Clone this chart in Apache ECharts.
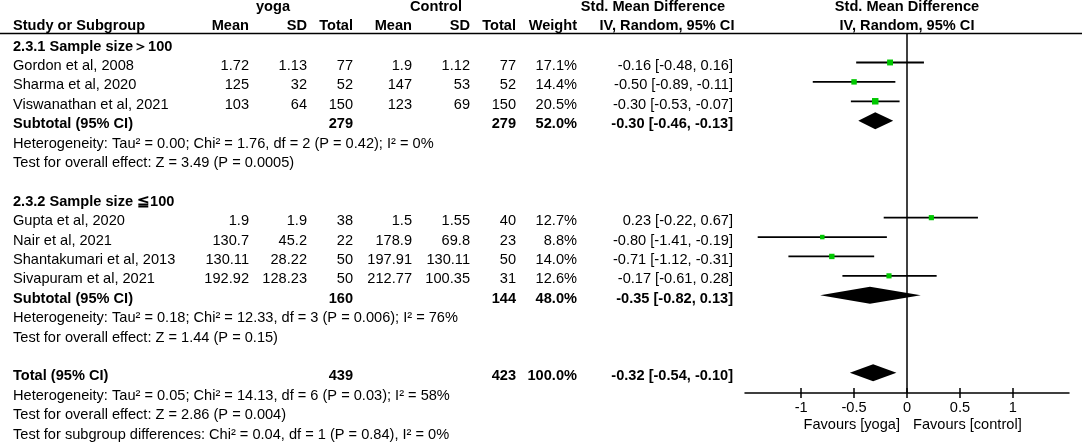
<!DOCTYPE html>
<html><head><meta charset="utf-8">
<script src="https://cdn.jsdelivr.net/npm/echarts@6/dist/echarts.min.js"></script>
<style>html,body{margin:0;padding:0;background:#fff}#c{width:1084px;height:443px}</style>
</head><body><div id="c"></div>
<script>
// ---------- data ----------
const studies = ['Gordon et al, 2008','Sharma et al, 2020','Viswanathan et al, 2021','Gupta et al, 2020','Nair et al, 2021','Shantakumari et al, 2013','Sivapuram et al, 2021'];
const groupMembers = [[0,1,2],[3,4,5,6]];
const yogaMean = [1.72,125,103,1.9,130.7,130.11,192.92];
const yogaSD = [1.13,32,64,1.9,45.2,28.22,128.23];
const yogaTotal = [77,52,150,38,22,50,50];
const ctrlMean = [1.9,147,123,1.5,178.9,197.91,212.77];
const ctrlSD = [1.12,53,69,1.55,69.8,130.11,100.35];
const ctrlTotal = [77,52,150,40,23,50,31];
const weight = [17.1,14.4,20.5,12.7,8.8,14.0,12.6];
const smd = [-0.16,-0.50,-0.30,0.23,-0.80,-0.71,-0.17];
const ciLow = [-0.48,-0.89,-0.53,-0.22,-1.41,-1.12,-0.61];
const ciHigh = [0.16,-0.11,-0.07,0.67,-0.19,-0.31,0.28];

const groupTitles = ['2.3.1 Sample size＞100','2.3.2 Sample size ≦100'];
const pooledLabels = ['Subtotal (95% CI)','Subtotal (95% CI)','Total (95% CI)'];
const pooledYogaTotal = [279,160,439];
const pooledCtrlTotal = [279,144,423];
const pooledWeight = [52.0,48.0,100.0];
const pooledSmd = [-0.30,-0.35,-0.32];
const pooledLow = [-0.46,-0.82,-0.54];
const pooledHigh = [-0.13,0.13,-0.10];
const heterogeneity = [
  'Heterogeneity: Tau² = 0.00; Chi² = 1.76, df = 2 (P = 0.42); I² = 0%',
  'Heterogeneity: Tau² = 0.18; Chi² = 12.33, df = 3 (P = 0.006); I² = 76%',
  'Heterogeneity: Tau² = 0.05; Chi² = 14.13, df = 6 (P = 0.03); I² = 58%'
];
const overallEffect = [
  'Test for overall effect: Z = 3.49 (P = 0.0005)',
  'Test for overall effect: Z = 1.44 (P = 0.15)',
  'Test for overall effect: Z = 2.86 (P = 0.004)'
];
const subgroupTest = 'Test for subgroup differences: Chi² = 0.04, df = 1 (P = 0.84), I² = 0%';
const xTicks = [-1,-0.5,0,0.5,1];
const favourLabels = ['Favours [yoga]','Favours [control]'];
const headerGroups = ['yoga','Control','Std. Mean Difference','Std. Mean Difference'];
const headerCols = ['Study or Subgroup','Mean','SD','Total','Mean','SD','Total','Weight','IV, Random, 95% CI','IV, Random, 95% CI'];

// ---------- layout ----------
const FS = 14.6;
const FONT = FS + 'px "Liberation Sans", Arial, sans-serif';
const BFONT = 'bold ' + FONT;
const COL = {study:13, yMean:249, ySD:307, yN:353, cMean:412, cSD:470, cN:516, w:577, ci:733};
const TEXT_DY = 3.5;
const f2 = v => v.toFixed(2);
const ciText = (e,l,h) => f2(e) + ' [' + f2(l) + ', ' + f2(h) + ']';

const tableRows = [];
const studyPts = [];
const pooledPts = [];
let r = -1;
function pooledRow(k, row) {
  tableRows.push({row, cells:[
    {text:pooledLabels[k], x:COL.study, align:'left', bold:true},
    {text:String(pooledYogaTotal[k]), x:COL.yN, align:'right', bold:true},
    {text:String(pooledCtrlTotal[k]), x:COL.cN, align:'right', bold:true},
    {text:pooledWeight[k].toFixed(1)+'%', x:COL.w, align:'right', bold:true},
    {text:ciText(pooledSmd[k],pooledLow[k],pooledHigh[k]), x:COL.ci, align:'right', bold:true}
  ]});
  pooledPts.push([pooledLow[k], pooledHigh[k], pooledSmd[k], row]);
}
groupMembers.forEach((members, g) => {
  tableRows.push({row:r, cells:[{text:groupTitles[g], x:COL.study, align:'left', bold:true}]});
  r++;
  members.forEach(i => {
    tableRows.push({row:r, cells:[
      {text:studies[i], x:COL.study, align:'left'},
      {text:String(yogaMean[i]), x:COL.yMean, align:'right'},
      {text:String(yogaSD[i]), x:COL.ySD, align:'right'},
      {text:String(yogaTotal[i]), x:COL.yN, align:'right'},
      {text:String(ctrlMean[i]), x:COL.cMean, align:'right'},
      {text:String(ctrlSD[i]), x:COL.cSD, align:'right'},
      {text:String(ctrlTotal[i]), x:COL.cN, align:'right'},
      {text:weight[i].toFixed(1)+'%', x:COL.w, align:'right'},
      {text:ciText(smd[i],ciLow[i],ciHigh[i]), x:COL.ci, align:'right'}
    ]});
    studyPts.push([ciLow[i], ciHigh[i], smd[i], r, weight[i]]);
    r++;
  });
  pooledRow(g, r); r++;
  tableRows.push({row:r, cells:[{text:heterogeneity[g], x:COL.study, align:'left'}]}); r++;
  tableRows.push({row:r, cells:[{text:overallEffect[g], x:COL.study, align:'left'}]}); r += 2;
});
pooledRow(2, r); r++;
tableRows.push({row:r, cells:[{text:heterogeneity[2], x:COL.study, align:'left'}]}); r++;
tableRows.push({row:r, cells:[{text:overallEffect[2], x:COL.study, align:'left'}]}); r++;
tableRows.push({row:r, cells:[{text:subgroupTest, x:COL.study, align:'left'}]});

// ---------- chart ----------
const chart = echarts.init(document.getElementById('c'), null, {renderer:'canvas'});

function txt(text, x, y, align, bold) {
  return {type:'text', silent:true, style:{text, x, y, align, verticalAlign:'middle', font: bold?BFONT:FONT, fill:'#000'}};
}
const headerY1 = 7, headerY2 = 26;
const graphics = [
  {type:'line', shape:{x1:0, y1:33.5, x2:1082, y2:33.5}, style:{stroke:'#000', lineWidth:1.5}, silent:true},
  txt(headerGroups[0], 273, headerY1, 'center', true),
  txt(headerGroups[1], 436, headerY1, 'center', true),
  txt(headerGroups[2], 653, headerY1, 'center', true),
  txt(headerGroups[3], 907, headerY1, 'center', true),
  txt(headerCols[0], COL.study, headerY2, 'left', true),
  txt(headerCols[1], COL.yMean, headerY2, 'right', true),
  txt(headerCols[2], COL.ySD, headerY2, 'right', true),
  txt(headerCols[3], COL.yN, headerY2, 'right', true),
  txt(headerCols[4], COL.cMean, headerY2, 'right', true),
  txt(headerCols[5], COL.cSD, headerY2, 'right', true),
  txt(headerCols[6], COL.cN, headerY2, 'right', true),
  txt(headerCols[7], COL.w, headerY2, 'right', true),
  txt(headerCols[8], 667, headerY2, 'center', true),
  txt(headerCols[9], 907, headerY2, 'center', true),
  txt(favourLabels[0], 900, 425, 'right', false),
  txt(favourLabels[1], 913, 425, 'left', false)
];

const option = {
  animation:false,
  backgroundColor:'#fff',
  grid:{left:745, top:33, width:324, height:360, containLabel:false},
  xAxis:[{
    type:'value', min:-1.53, max:1.53, gridIndex:0, position:'bottom',
    axisLine:{show:true, onZero:false, lineStyle:{color:'#000', width:1.5}},
    axisTick:{show:true, customValues:xTicks, length:5, lineStyle:{color:'#000', width:1.5}},
    axisLabel:{show:true, customValues:xTicks, margin:7, color:'#000', fontSize:FS, fontFamily:'"Liberation Sans", Arial', formatter:v=>String(v)},
    splitLine:{show:false}
  },{
    type:'value', min:-1.53, max:1.53, gridIndex:0, position:'bottom',
    axisLine:{show:false, onZero:false},
    axisTick:{show:true, inside:true, customValues:xTicks, length:5, lineStyle:{color:'#000', width:1.5}},
    axisLabel:{show:false}, splitLine:{show:false}
  }],
  yAxis:{type:'value', min:-1.52, max:17.04, inverse:true, show:false},
  graphic:graphics,
  series:[
    {
      type:'custom', name:'table', data:tableRows.map(t=>[0,t.row]),
      encode:{x:0,y:1}, clip:false, silent:true,
      renderItem:(params, api) => {
        const row = tableRows[params.dataIndex];
        const y = api.coord([0, row.row])[1] + TEXT_DY;
        return {type:'group', children: row.cells.map(c => txt(c.text, c.x, y, c.align, c.bold))};
      }
    },
    {
      type:'custom', name:'studies', data:studyPts, encode:{x:[0,1,2], y:3}, clip:false, silent:true,
      renderItem:(params, api) => {
        const p1 = api.coord([api.value(0), api.value(3)]);
        const p2 = api.coord([api.value(1), api.value(3)]);
        const pc = api.coord([api.value(2), api.value(3)]);
        const s = 3 + 0.17 * api.value(4);
        return {type:'group', children:[
          {type:'line', shape:{x1:p1[0], y1:p1[1], x2:p2[0], y2:p2[1]}, style:{stroke:'#000', lineWidth:1.8}},
          {type:'rect', shape:{x:pc[0]-s/2, y:pc[1]-s/2, width:s, height:s}, style:{fill:'#00c800'}}
        ]};
      },
      markLine:{
        silent:true, symbol:'none', label:{show:false},
        lineStyle:{color:'#000', width:1.5, type:'solid'},
        data:[{xAxis:0}]
      }
    },
    {
      type:'custom', name:'pooled', data:pooledPts, encode:{x:[0,1,2], y:3}, clip:false, silent:true,
      renderItem:(params, api) => {
        const y = api.value(3);
        const a = api.coord([api.value(0), y]);
        const b = api.coord([api.value(1), y]);
        const c = api.coord([api.value(2), y]);
        const h = 8.5;
        return {type:'polygon', shape:{points:[[a[0],a[1]],[c[0],c[1]-h],[b[0],b[1]],[c[0],c[1]+h]]}, style:{fill:'#000'}};
      }
    }
  ]
};
chart.setOption(option);
</script>
</body></html>
